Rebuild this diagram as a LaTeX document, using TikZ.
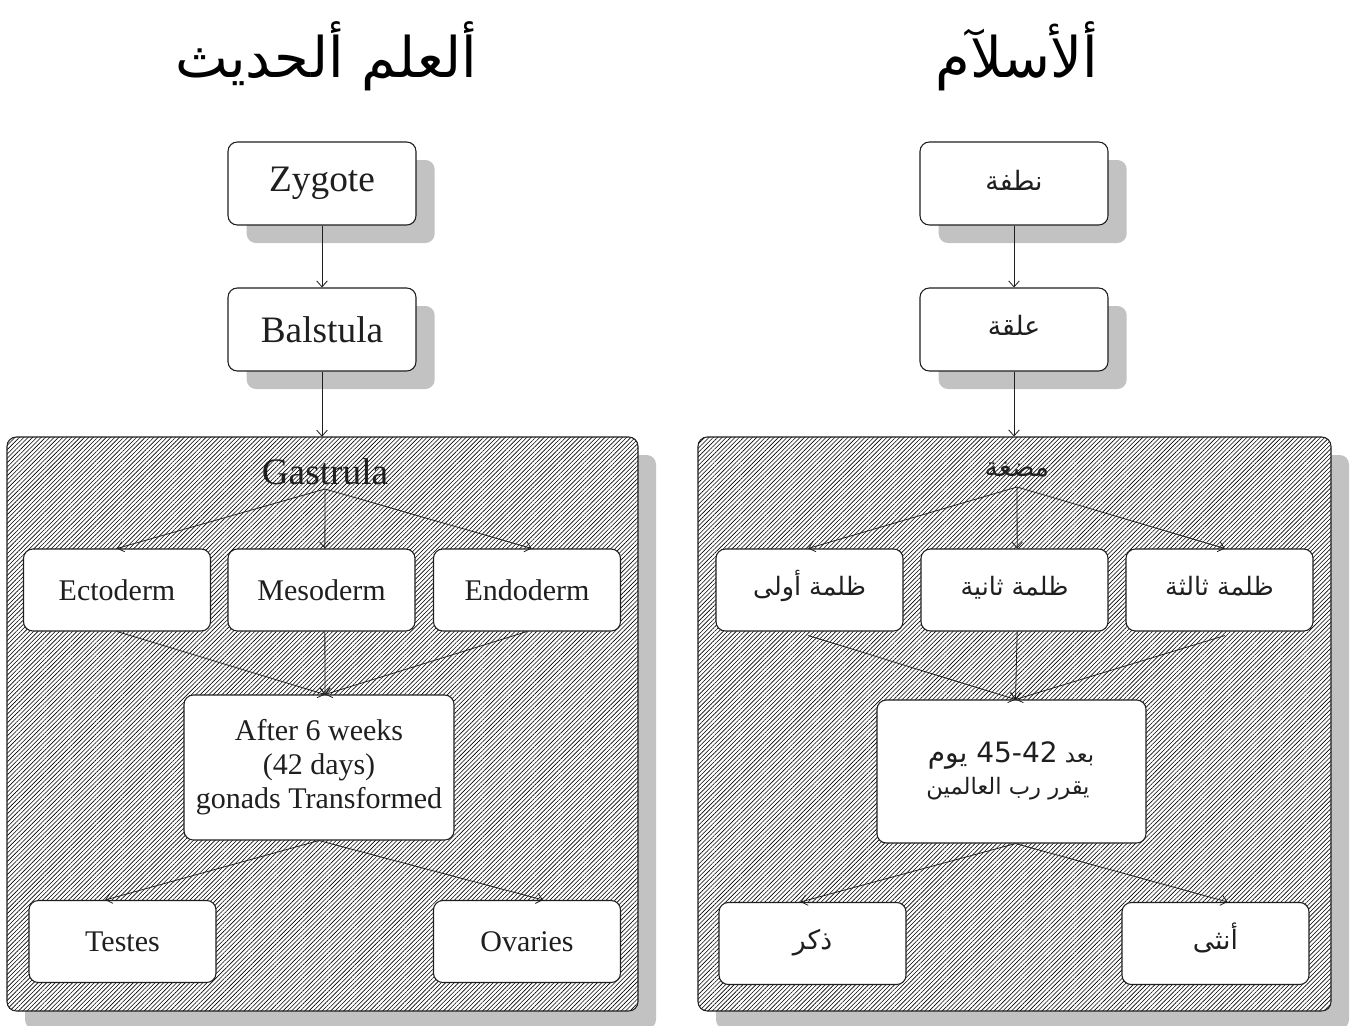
\documentclass[tikz,border=0pt]{standalone}
\usepackage{fontspec}
\setmainfont{Liberation Serif}
\newfontfamily\arabicfont[Script=Arabic]{DejaVu Sans}
\TeXXeTstate=1
\usetikzlibrary{patterns.meta,arrows.meta,shadows}
\definecolor{shd}{gray}{0.76}
\definecolor{ink}{gray}{0.12}
\tikzset{
  x=0.75pt,y=-0.75pt,
  box/.style={draw=ink,line width=0.8pt,rounded corners=7pt,fill=white,align=center,text=ink,inner sep=0pt},
  topbox/.style={box,minimum width=141pt,minimum height=62.25pt,font=\fontsize{28}{30}\selectfont,
     drop shadow={shadow xshift=14pt,shadow yshift=-13.5pt,fill=shd,opacity=1}},
  ibox/.style={box,minimum width=140.25pt,minimum height=61.5pt,font=\fontsize{22.5}{25.5}\selectfont},
  cont/.style={drop shadow={shadow xshift=13.5pt,shadow yshift=-13.5pt,fill=shd,opacity=1},
     preaction={fill=white},
     draw=ink,line width=0.8pt,rounded corners=7pt,
     pattern={Lines[angle=45,distance=2.3pt,line width=0.45pt]},pattern color=black,
     minimum width=473.25pt,minimum height=430.5pt,inner sep=0pt},
  arr/.style={draw=ink,line width=0.6pt,-{Straight Barb[length=4.5pt,width=8pt]}},
  ar/.style={font=\arabicfont\fontsize{19}{25.5}\selectfont,text=ink,inner sep=0pt,anchor=base},
  title/.style={text=black,font=\arabicfont\fontsize{42}{48}\selectfont,inner sep=0pt,anchor=base},
}
\begin{document}
\begin{tikzpicture}
\useasboundingbox (0,0) rectangle (1352,1025);
\fill[white] (0,0) rectangle (1352,1025);

% ---------- titles
\node[title] (tl) at (326,77) {\beginR ألعلم ألحديث\endR};
\node[title] (tr) at (1017,77) {\beginR ألأسلآم\endR};

% ---------- left column
\node[topbox] (zyg) at (322,183.5) {Zygote};
\node[topbox] (bal) at (322,329.5) {Balstula};
\node[cont] (gcon) at (322.5,724) {};
\node[font=\fontsize{28}{30}\selectfont,text=ink,inner sep=0pt] (gas) at (325,472) {Gastrula};
\coordinate (gsrc) at (325,489);
\node[ibox] (ecto) at (117,590) {Ectoderm};
\node[ibox] (meso) at (321.5,590) {Mesoderm};
\node[ibox] (endo) at (527,590) {Endoderm};
\node[box,minimum width=202.5pt,minimum height=108.75pt,font=\fontsize{22.5}{25.5}\selectfont] (after) at (319,767.5)
  {After 6 weeks\\(42 days)\\gonads Transformed};
\node[ibox] (tes) at (122.5,941.5) {Testes};
\node[ibox] (ova) at (527,941.5) {Ovaries};

\draw[arr] (zyg) -- (bal);
\draw[arr] (bal.south) -- (gcon.north -| bal.south);
\draw[arr] (gsrc) -- (ecto.north);
\draw[arr] (gsrc) -- ([xshift=2.5pt]meso.north);
\draw[arr] (gsrc) -- ([xshift=3.5pt]endo.north);
\draw[arr] (ecto.south) -- ([xshift=4.5pt]after.north);
\draw[arr] ([xshift=2.5pt]meso.south) -- ([xshift=4.5pt]after.north);
\draw[arr] (endo.south) -- ([xshift=4.5pt]after.north);
\draw[arr] (after.south) -- ([xshift=-13pt]tes.north);
\draw[arr] (after.south) -- ([xshift=12pt]ova.north);

% ---------- right column
\node[topbox] (nut) at (1014,183.5) {};
\node[ar,font=\arabicfont\fontsize{20}{25.5}\selectfont] (nutt) at (1014,190) {\beginR نطفة\endR};
\node[topbox] (alq) at (1014,329.5) {};
\node[ar,font=\arabicfont\fontsize{20}{25.5}\selectfont] (alqt) at (1014,335) {\beginR علقة\endR};
\node[cont,minimum width=474.75pt] (mcon) at (1014.5,724) {};
\node[ar,font=\arabicfont\fontsize{20}{25.5}\selectfont] (mud) at (1017,476) {\beginR مضغة\endR};
\coordinate (msrc) at (1017,487);
\node[ibox] (z1) at (809.5,590) {};
\node[ar] (z1t) at (809.5,595) {\beginR ظلمة أولى\endR};
\node[ibox] (z2) at (1014.5,590) {};
\node[ar] (z2t) at (1014.5,595) {\beginR ظلمة ثانية\endR};
\node[ibox] (z3) at (1219.5,590) {};
\node[ar] (z3t) at (1219.5,595) {\beginR ظلمة ثالثة\endR};
\node[box,minimum width=201.75pt,minimum height=107.25pt] (dec) at (1011.5,771.5) {};
\node[ar,font=\arabicfont\fontsize{17}{25.5}\selectfont] (dect1) at (1011,762)
  {\beginR بعد \beginL\fontsize{21}{26}\selectfont 45-42\endL{} يوم\endR};
\node[ar,font=\arabicfont\fontsize{17}{25.5}\selectfont] (dect2) at (1008,794) {\beginR يقرر رب العالمين\endR};
\node[ibox] (dhk) at (812.5,943.5) {};
\node[ar,font=\arabicfont\fontsize{20}{25.5}\selectfont] (dhkt) at (812.5,949) {\beginR ذكر\endR};
\node[ibox] (unt) at (1215.5,943.5) {};
\node[ar,font=\arabicfont\fontsize{20}{25.5}\selectfont] (untt) at (1215.5,949) {\beginR أنثى\endR};

\draw[arr] (nut) -- (alq);
\draw[arr] (alq.south) -- (mcon.north -| alq.south);
\draw[arr] (msrc) -- ([xshift=-1pt]z1.north);
\draw[arr] (msrc) -- ([xshift=2pt]z2.north);
\draw[arr] (msrc) -- ([xshift=4pt]z3.north);
\draw[arr] ([xshift=-1pt,yshift=-3pt]z1.south) -- ([xshift=3pt]dec.north);
\draw[arr] ([xshift=2pt]z2.south) -- ([xshift=3pt]dec.north);
\draw[arr] ([xshift=4pt,yshift=-3pt]z3.south) -- ([xshift=3pt]dec.north);
\draw[arr] ([xshift=3pt]dec.south) -- ([xshift=-9pt]dhk.north);
\draw[arr] ([xshift=3pt]dec.south) -- ([xshift=9pt]unt.north);
\end{tikzpicture}
\end{document}
